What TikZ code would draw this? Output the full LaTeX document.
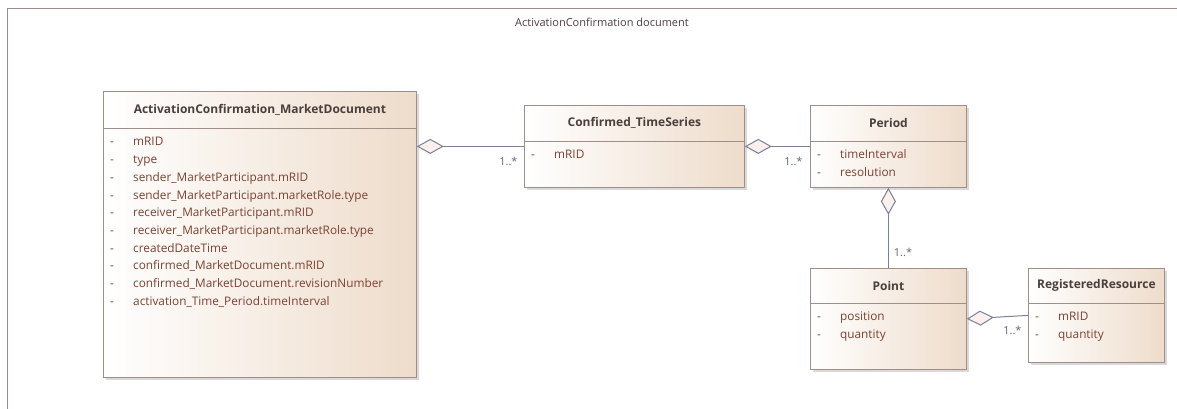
\documentclass[tikz,border=0pt]{standalone}
\usepackage{fontspec}
\setmainfont{Open Sans}
\usepackage{tikz}
\usetikzlibrary{positioning,arrows.meta,shadows}
\usepackage{xcolor}

\definecolor{classfill}{HTML}{EEDCCB}
\definecolor{classline}{HTML}{A08E88}
\definecolor{titletext}{HTML}{4B3F3D}
\definecolor{attrtext}{HTML}{7A4232}
\definecolor{linkline}{HTML}{7A8099}
\definecolor{multtext}{HTML}{5D6478}
\definecolor{diamondfill}{HTML}{FBF0EB}
\definecolor{framegray}{HTML}{9A8E8C}

\newcommand{\attr}[1]{\strut\makebox[23pt][l]{-}#1}

\begin{document}
\begin{tikzpicture}[
x=1pt,y=-1pt,
classbox/.style={
draw=classline,
line width=0.8pt,
left color=white,
right color=classfill,
drop shadow={shadow xshift=2.5pt,shadow yshift=-2.5pt,fill=black,opacity=0.15},
anchor=north west,
inner sep=0pt
},
classtitle/.style={
font=\bfseries\fontsize{12}{14}\selectfont,
text=titletext
},
attrlist/.style={
anchor=north west,
align=left,
inner sep=0pt,
font=\fontsize{11.8}{17.7}\selectfont,
text=attrtext
},
sepline/.style={draw=classline,line width=0.8pt},
aggr/.style={
draw=linkline,
line width=1pt,
{Diamond[length=27pt,width=15pt,fill=diamondfill]}-
},
mult/.style={
font=\fontsize{11}{13}\selectfont,
text=multtext,
inner sep=0pt
}
]

\useasboundingbox (0,0) rectangle (1177,409);

%---------------- Frame ----------------%

\draw[framegray,line width=1pt] (7,409) -- (7,9) -- (1177,9);

\node[font=\fontsize{11}{13}\selectfont,text=titletext] (doctitle) at (602,22)
{ActivationConfirmation document};

%---------------- Classes ----------------%

\node[classbox,minimum width=313pt,minimum height=286pt] (acmd) at (103,91) {};
\node[classtitle] (acmdtitle) at ([yshift=-18.5pt]acmd.north)
{ActivationConfirmation\_MarketDocument};
\draw[sepline] ([yshift=-37pt]acmd.north west) -- ([yshift=-37pt]acmd.north east);
\node[attrlist] (acmdattr) at ([xshift=7pt,yshift=-42.4pt]acmd.north west)
{\attr{mRID}\\
\attr{type}\\
\attr{sender\_MarketParticipant.mRID}\\
\attr{sender\_MarketParticipant.marketRole.type}\\
\attr{receiver\_MarketParticipant.mRID}\\
\attr{receiver\_MarketParticipant.marketRole.type}\\
\attr{createdDateTime}\\
\attr{confirmed\_MarketDocument.mRID}\\
\attr{confirmed\_MarketDocument.revisionNumber}\\
\attr{activation\_Time\_Period.timeInterval}};

\node[classbox,minimum width=220pt,minimum height=82pt] (cts) at (524,105) {};
\node[classtitle] (ctstitle) at ([yshift=-18pt]cts.north)
{Confirmed\_TimeSeries};
\draw[sepline] ([yshift=-36pt]cts.north west) -- ([yshift=-36pt]cts.north east);
\node[attrlist] (ctsattr) at ([xshift=7pt,yshift=-41.4pt]cts.north west)
{\attr{mRID}};

\node[classbox,minimum width=156pt,minimum height=82pt] (period) at (810,105) {};
\node[classtitle] (periodtitle) at ([yshift=-18pt]period.north)
{Period};
\draw[sepline] ([yshift=-36pt]period.north west) -- ([yshift=-36pt]period.north east);
\node[attrlist] (periodattr) at ([xshift=7pt,yshift=-41.4pt]period.north west)
{\attr{timeInterval}\\
\attr{resolution}};

\node[classbox,minimum width=156pt,minimum height=101pt] (point) at (810,268) {};
\node[classtitle] (pointtitle) at ([yshift=-17.5pt]point.north)
{Point};
\draw[sepline] ([yshift=-35pt]point.north west) -- ([yshift=-35pt]point.north east);
\node[attrlist] (pointattr) at ([xshift=7pt,yshift=-40.4pt]point.north west)
{\attr{position}\\
\attr{quantity}};

\node[classbox,minimum width=136pt,minimum height=94pt] (rr) at (1028,268) {};
\node[classtitle] (rrtitle) at ([yshift=-17.5pt]rr.north)
{RegisteredResource};
\draw[sepline] ([yshift=-35pt]rr.north west) -- ([yshift=-35pt]rr.north east);
\node[attrlist] (rrattr) at ([xshift=7pt,yshift=-40.4pt]rr.north west)
{\attr{mRID}\\
\attr{quantity}};

%---------------- Connections ----------------%

\draw[aggr] (cts.west -| acmd.east) -- (cts.west)
node[mult,pos=1,below left=10pt and 6pt] {1..*};

\draw[aggr] (cts.east) -- (period.west)
node[mult,pos=1,below left=10pt and 7pt] {1..*};

\draw[aggr] (period.south) -- (point.north)
node[mult,pos=1,above right=11pt and 5pt] {1..*};

\draw[aggr] (point.east) -- (rr.west)
node[mult,pos=1,below left=10pt and 6pt] {1..*};

\end{tikzpicture}
\end{document}
